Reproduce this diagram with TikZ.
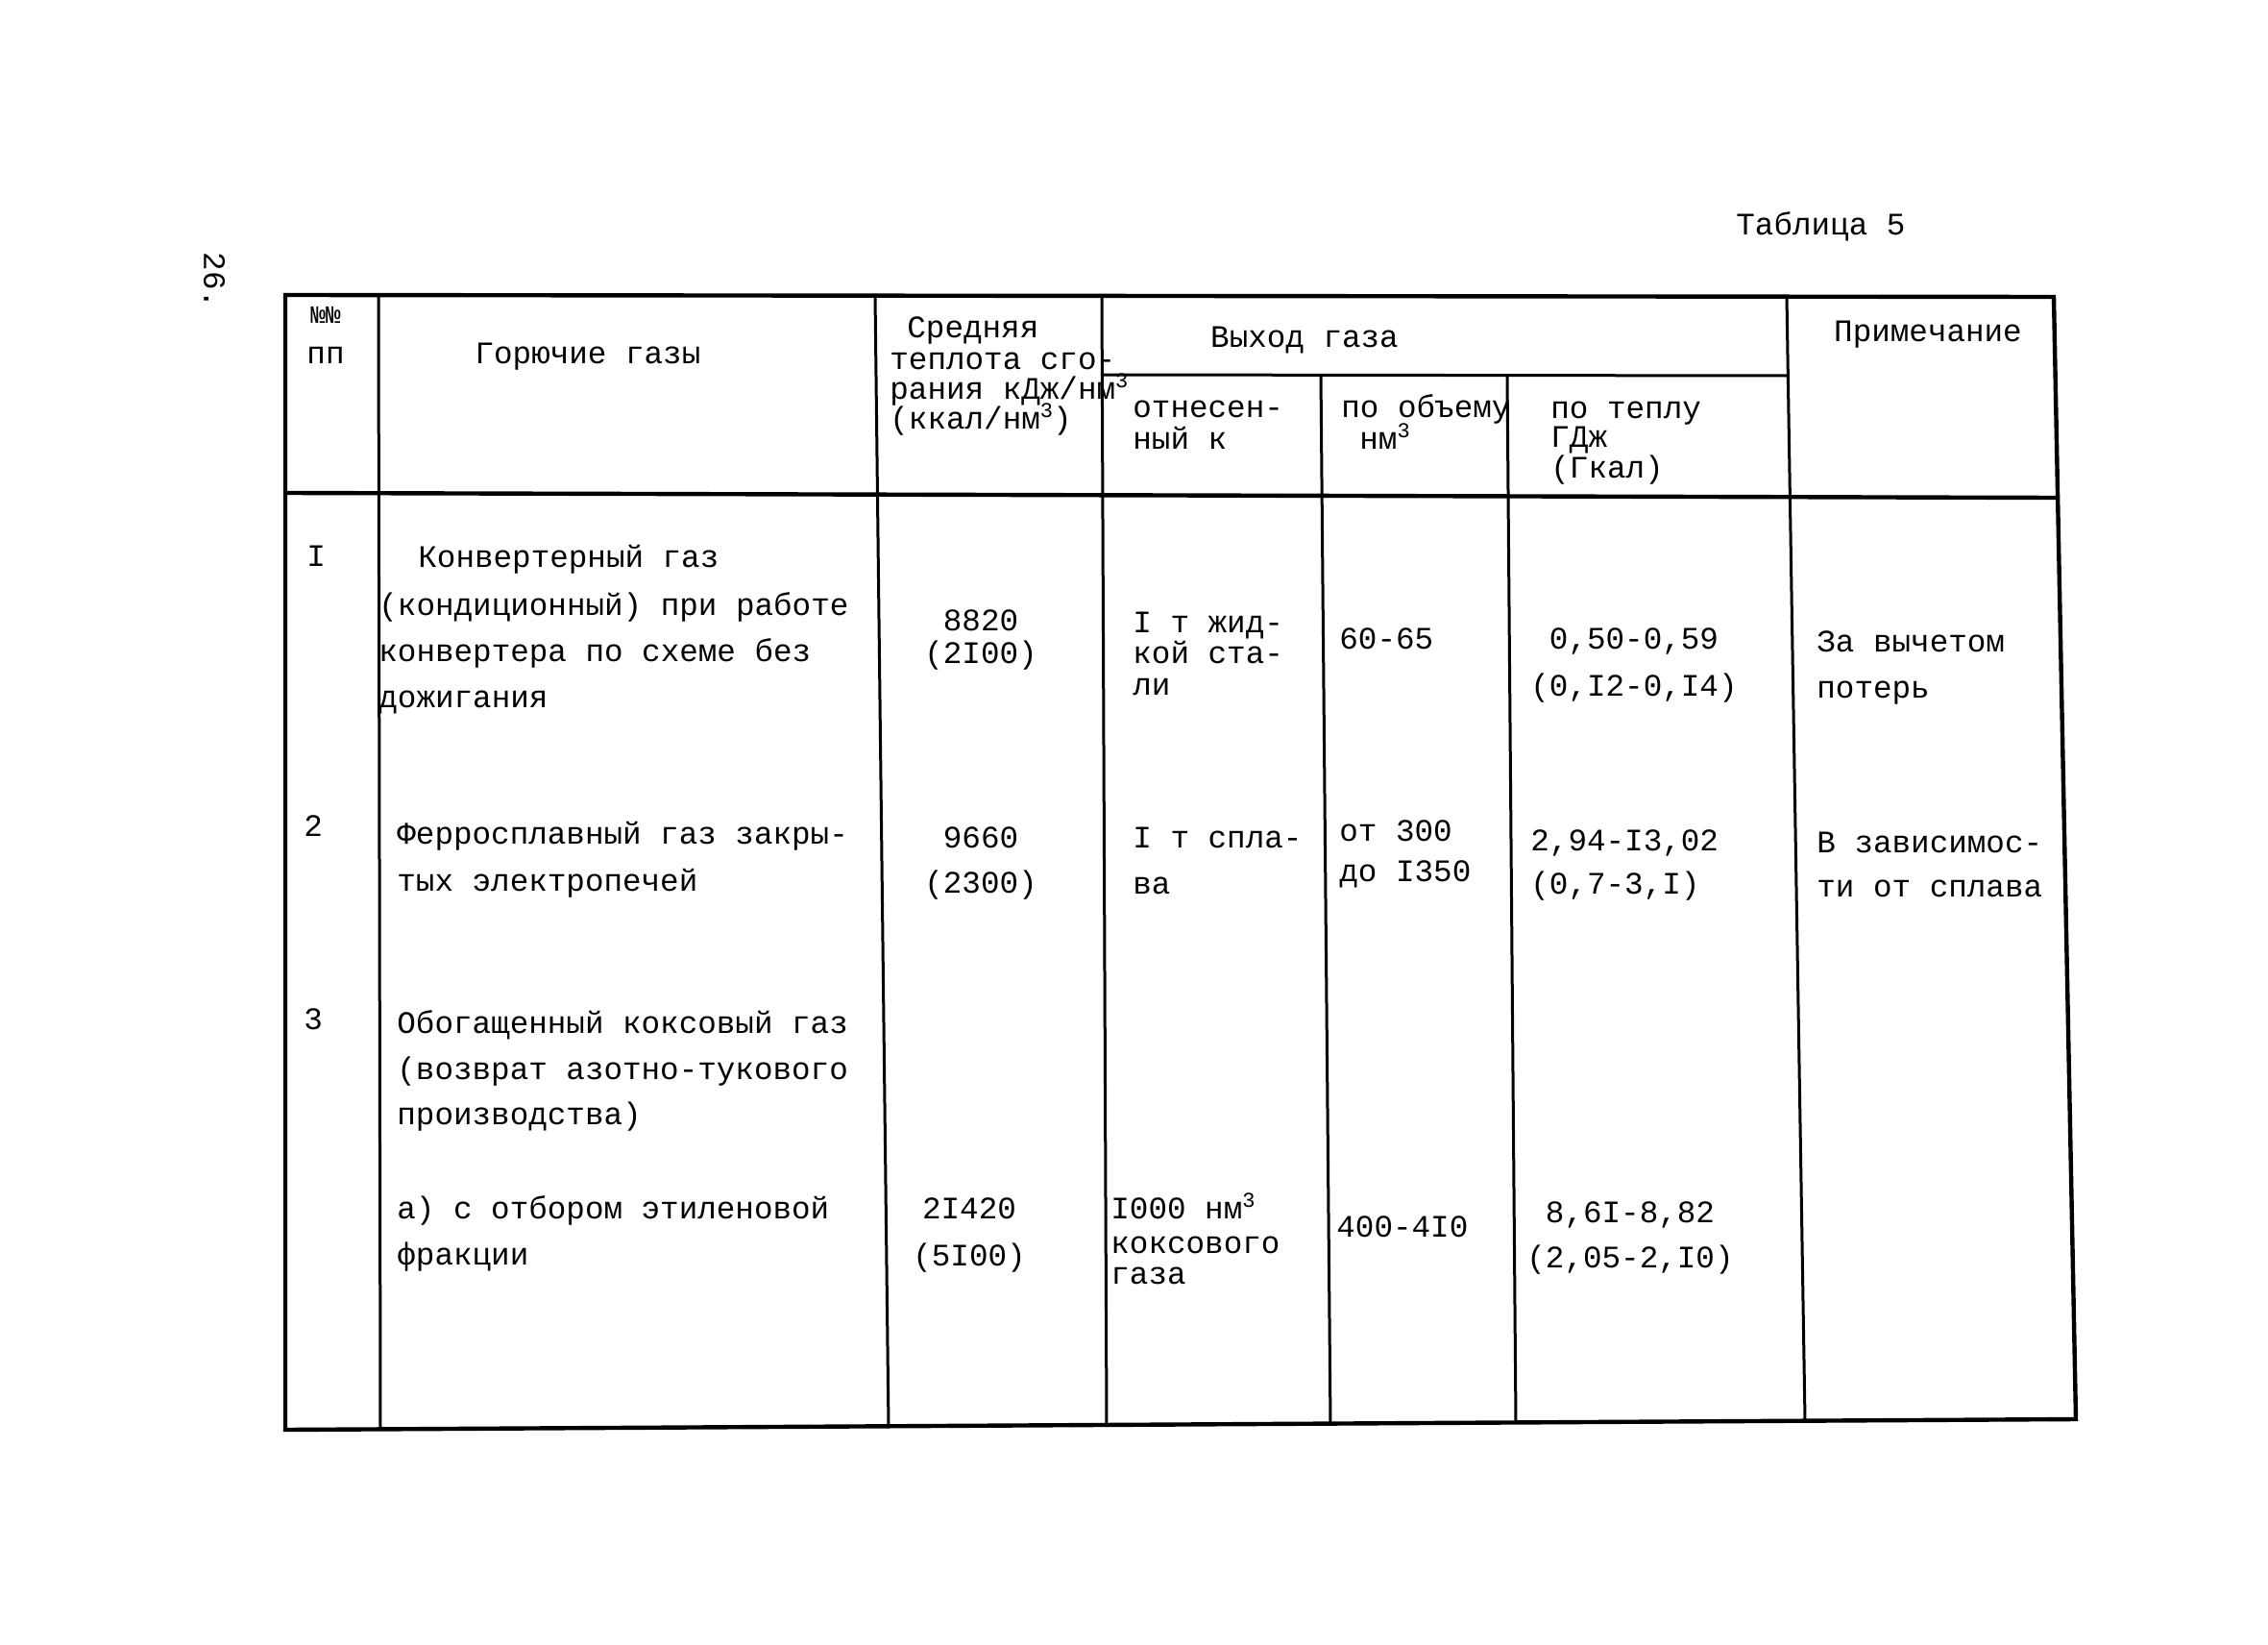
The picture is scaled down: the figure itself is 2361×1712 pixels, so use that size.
\documentclass[tikz,border=0pt]{standalone}
\usepackage{fontspec}
\setmainfont{Liberation Mono}
\newcommand\cubesup{\raisebox{0.35em}{\fontsize{11}{11}\selectfont 3}}
\begin{document}
\begin{tikzpicture}[x=0.5pt,y=-0.5pt,
  txt/.style={font=\fontsize{16.3}{16.3}\selectfont, inner sep=0pt, anchor=base west},
  ctr/.style={txt, anchor=base},
  outerline/.style={line width=2.2pt},
  innerline/.style={line width=1.5pt}]
\useasboundingbox[fill=white] (0,0) rectangle (2361,1712);

% table frame and rules
\draw[outerline] (297,307) -- (2138,309) -- (2161,1477) -- (297,1488) -- cycle;
\draw[outerline] (297,513) -- (2141,518);
\draw[innerline] (394,307) -- (396,1487);
\draw[innerline] (911,308) -- (925,1486);
\draw[innerline] (1147,308) -- (1152,1485);
\draw[innerline] (1860,309) -- (1879,1478);
\draw[innerline] (1147,390) -- (1860,391);
\draw[innerline] (1375,391) -- (1385,1483);
\draw[innerline] (1569,391) -- (1578,1481);

% page labels
\node[txt] (title) at (1807,245) {Таблица 5};
\node[txt, anchor=center, rotate=-90] (page) at (223,292) {26.};

% header
\node[ctr, font=\fontsize{13}{13}\selectfont] (nn) at (339,336) {№№};
\node[ctr] (pp) at (339,378) {пп};
\node[ctr] (hname) at (612,379) {Горючие газы};
\node[txt] (h3a) at (944,351) {Средняя};
\node[txt] (h3b) at (926,384) {теплота сго-};
\node[txt] (h3c) at (926,415) {рания кДж/нм\cubesup};
\node[txt] (h3d) at (926,446) {(ккал/нм\cubesup)};
\node[ctr] (hout) at (1358,361) {Выход газа};
\node[ctr] (hnote) at (2007,355) {Примечание};
\node[txt] (h4a) at (1179,434) {отнесен-};
\node[txt] (h4b) at (1179,467) {ный к};
\node[txt] (h5a) at (1396,434) {по объему};
\node[txt] (h5b) at (1415,467) {нм\cubesup};
\node[txt] (h6a) at (1614,435) {по теплу};
\node[txt] (h6b) at (1614,465) {ГДж};
\node[txt] (h6c) at (1614,497) {(Гкал)};

% row 1
\node[txt] (r1n) at (319,589) {I};
\node[txt] (r1a) at (435,590) {Конвертерный газ};
\node[txt] (r1b) at (394,640) {(кондиционный) при работе};
\node[txt] (r1c) at (394,688) {конвертера по схеме без};
\node[txt] (r1d) at (394,736) {дожигания};
\node[ctr] (r1h1) at (1021,656) {8820};
\node[ctr] (r1h2) at (1021,690) {(2I00)};
\node[txt] (r1k1) at (1179,658) {I т жид-};
\node[txt] (r1k2) at (1179,690) {кой ста-};
\node[txt] (r1k3) at (1179,723) {ли};
\node[txt] (r1v) at (1394,675) {60-65};
\node[ctr] (r1t1) at (1701,675) {0,50-0,59};
\node[ctr] (r1t2) at (1701,724) {(0,I2-0,I4)};
\node[txt] (r1p1) at (1891,678) {За вычетом};
\node[txt] (r1p2) at (1891,726) {потерь};

% row 2
\node[txt] (r2n) at (316,870) {2};
\node[txt] (r2a) at (413,878) {Ферросплавный газ закры-};
\node[txt] (r2b) at (413,927) {тых электропечей};
\node[ctr] (r2h1) at (1021,882) {9660};
\node[ctr] (r2h2) at (1021,929) {(2300)};
\node[txt] (r2k1) at (1179,882) {I т спла-};
\node[txt] (r2k2) at (1179,930) {ва};
\node[txt] (r2v1) at (1394,875) {от 300};
\node[txt] (r2v2) at (1394,917) {до I350};
\node[txt] (r2t1) at (1593,885) {2,94-I3,02};
\node[txt] (r2t2) at (1593,930) {(0,7-3,I)};
\node[txt] (r2p1) at (1891,887) {В зависимос-};
\node[txt] (r2p2) at (1891,933) {ти от сплава};

% row 3
\node[txt] (r3n) at (316,1071) {3};
\node[txt] (r3a) at (413,1075) {Обогащенный коксовый газ};
\node[txt] (r3b) at (413,1123) {(возврат азотно-тукового};
\node[txt] (r3c) at (413,1170) {производства)};
\node[txt] (r3d) at (413,1268) {а) с отбором этиленовой};
\node[txt] (r3e) at (413,1316) {фракции};
\node[ctr] (r3h1) at (1009,1268) {2I420};
\node[ctr] (r3h2) at (1009,1317) {(5I00)};
\node[txt] (r3k1) at (1156,1268) {I000 нм\cubesup};
\node[txt] (r3k2) at (1156,1304) {коксового};
\node[txt] (r3k3) at (1156,1336) {газа};
\node[txt] (r3v) at (1391,1287) {400-4I0};
\node[ctr] (r3t1) at (1697,1272) {8,6I-8,82};
\node[ctr] (r3t2) at (1697,1319) {(2,05-2,I0)};
\end{tikzpicture}
\end{document}
